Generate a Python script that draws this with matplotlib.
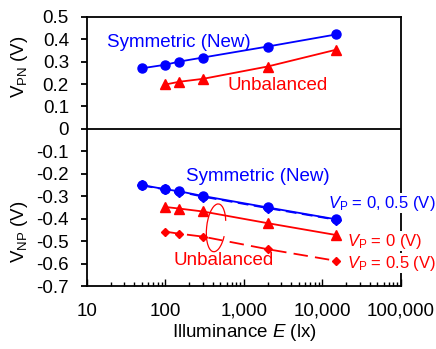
import matplotlib
matplotlib.use("Agg")
import matplotlib.pyplot as plt
from matplotlib.patches import Arc
from matplotlib.ticker import FixedLocator, FuncFormatter, LogLocator

plt.rcParams['font.family'] = ['Liberation Sans', 'DejaVu Sans']
plt.rcParams['mathtext.fontset'] = 'custom'
plt.rcParams['mathtext.rm'] = 'Liberation Sans'
plt.rcParams['mathtext.it'] = 'Liberation Sans:italic'
plt.rcParams['axes.unicode_minus'] = False

# Illuminance (lx)
lux_sym = [50, 100, 150, 300, 2000, 15000]
lux_unb = [100, 150, 300, 2000, 15000]

# V_PN (upper half)
vpn_sym = [0.27, 0.286, 0.30, 0.318, 0.367, 0.421]
vpn_unb = [0.198, 0.21, 0.223, 0.278, 0.353]

# V_NP (lower half)
vnp_sym_0 = [-0.25, -0.269, -0.278, -0.299, -0.35, -0.403]
vnp_sym_05 = [-0.252, -0.27, -0.28, -0.302, -0.353, -0.405]
vnp_unb_0 = [-0.348, -0.355, -0.368, -0.42, -0.473]
vnp_unb_05 = [-0.458, -0.467, -0.48, -0.536, -0.588]

x_ticks = [10, 100, 1000, 10000, 100000]
y_ticks = [-0.7, -0.6, -0.5, -0.4, -0.3, -0.2, -0.1, 0, 0.1, 0.2, 0.3, 0.4, 0.5]

blue = '#0000FF'
red = '#FF0000'

fig = plt.figure(figsize=(4.36, 3.49), dpi=100)
ax = fig.add_axes([0.1995, 0.1805, 0.7202, 0.7717])

ax.set_xscale('log')
ax.set_xlim(10, 100000)
ax.set_ylim(-0.7, 0.5)

ax.axhline(0, color='black', lw=1.3, zorder=1)

# upper
ax.plot(lux_sym, vpn_sym, color=blue, lw=1.3, marker='o', ms=6.5)
ax.plot(lux_unb, vpn_unb, color=red, lw=1.3, marker='^', ms=6.5)

# lower
ax.plot(lux_sym, vnp_sym_05, color=blue, lw=1.3, ls=(0, (6, 3)), marker='D', ms=5)
ax.plot(lux_sym, vnp_sym_0, color=blue, lw=1.3, marker='o', ms=6.5)
ax.plot(lux_unb, vnp_unb_0, color=red, lw=1.3, marker='^', ms=6.5)
ax.plot(lux_unb, vnp_unb_05, color=red, lw=1.3, ls=(0, (8, 4)), marker='D', ms=4.5)

ax.add_patch(Arc((0.411, 0.216), 0.06, 0.178, angle=-5, theta1=45, theta2=315,
                 transform=ax.transAxes, edgecolor=red, lw=0.9))

fs = 13.5
ax.text(0.064, 0.905, 'Symmetric (New)', color=blue, fontsize=fs, va='center',
        transform=ax.transAxes)
ax.text(0.446, 0.745, 'Unbalanced', color=red, fontsize=fs, va='center',
        transform=ax.transAxes)
ax.text(0.315, 0.405, 'Symmetric (New)', color=blue, fontsize=fs, va='center',
        transform=ax.transAxes)
ax.text(0.277, 0.093, 'Unbalanced', color=red, fontsize=fs, va='center',
        transform=ax.transAxes)
wb = dict(facecolor='white', edgecolor='none', pad=0.5)
fs2 = 12
ax.text(0.768, 0.308, r'$V_{\mathrm{P}}$ = 0, 0.5 (V)', color=blue, fontsize=fs2,
        va='center', transform=ax.transAxes, bbox=wb)
ax.text(0.828, 0.166, r'$V_{\mathrm{P}}$ = 0 (V)', color=red, fontsize=fs2,
        va='center', transform=ax.transAxes, bbox=wb)
ax.text(0.828, 0.085, r'$V_{\mathrm{P}}$ = 0.5 (V)', color=red, fontsize=fs2,
        va='center', transform=ax.transAxes, bbox=wb)

ax.xaxis.set_major_locator(FixedLocator(x_ticks))
ax.xaxis.set_minor_locator(LogLocator(base=10, subs=range(2, 10)))
ax.xaxis.set_major_formatter(FuncFormatter(lambda v, p: f'{int(round(v)):,}'))
ax.yaxis.set_major_locator(FixedLocator(y_ticks))
ax.yaxis.set_major_formatter(FuncFormatter(lambda v, p: '0' if abs(v) < 1e-9 else f'{v:.1f}'))

ax.tick_params(axis='x', which='major', direction='in', length=5, width=1,
               labelsize=fs, pad=12)
ax.tick_params(axis='x', which='minor', direction='in', length=3, width=1)
ax.tick_params(axis='y', which='major', direction='out', length=4, width=1.3,
               labelsize=fs, pad=9)

for sp in ax.spines.values():
    sp.set_linewidth(1.3)

ax.set_xlabel(r'Illuminance $E$ (lx)', fontsize=fs, labelpad=2)
fig.text(0.044, 0.808, r'$\mathrm{V_{PN}}$ (V)', rotation=90, fontsize=fs,
         ha='center', va='center')
fig.text(0.044, 0.335, r'$\mathrm{V_{NP}}$ (V)', rotation=90, fontsize=fs,
         ha='center', va='center')

fig.savefig('out.png', dpi=100)
